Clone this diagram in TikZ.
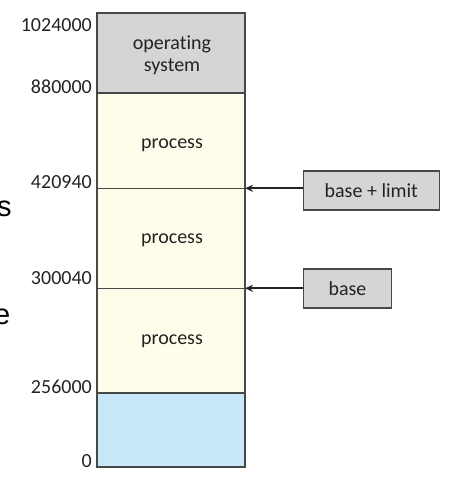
\documentclass[tikz,border=0pt]{standalone}
\usepackage{fontspec}
\setmainfont[Ligatures=NoCommon]{Carlito}
\newfontfamily\arialfont{Liberation Sans}
\usetikzlibrary{arrows.meta}
\definecolor{osgray}{RGB}{212,213,215}
\definecolor{procyellow}{RGB}{254,252,234}
\definecolor{freeblue}{RGB}{200,232,249}
\definecolor{edgegray}{RGB}{72,72,72}
\definecolor{txtgray}{RGB}{35,35,35}
\tikzset{
  memsec/.style={draw=edgegray, line width=1.3pt},
  addr/.style={anchor=base east, inner sep=0pt, font=\fontsize{20}{23}\selectfont, text=txtgray},
  seclabel/.style={inner sep=0pt, font=\fontsize{20}{22}\selectfont, text=txtgray, align=center},
  regbox/.style={draw=edgegray, line width=1.3pt, fill=osgray, inner sep=0pt, minimum height=39pt, font=\fontsize{20}{23}\selectfont, text=txtgray},
  regarrow/.style={-{Stealth[length=8pt,width=7pt]}, line width=2pt, draw=txtgray},
  stray/.style={anchor=base west, inner sep=0pt, font=\arialfont\fontsize{29}{32}\selectfont}
}
\begin{document}
\begin{tikzpicture}[x=1pt,y=-1pt]
\useasboundingbox (0,0) rectangle (458,490);
% memory sections
\fill[osgray] (97,13) rectangle (245,93);
\fill[procyellow] (97,93) rectangle (245,393);
\fill[freeblue] (97,393) rectangle (245,467);
\draw[memsec] (97,13) rectangle (245,467);
\draw[memsec] (97,93) -- (245,93);
\draw[memsec] (97,188.3) -- (245,188.3);
\draw[memsec] (97,288.3) -- (245,288.3);
\draw[memsec] (97,393) -- (245,393);
\coordinate (lim) at (245,188.3);
\coordinate (bas) at (245,288.3);
% section labels
\node[seclabel] (os) at (172,55) {operating\\system};
\node[seclabel] (p1) at (172,145) {process};
\node[seclabel] (p2) at (172,240) {process};
\node[seclabel] (p3) at (172,341) {process};
% addresses
\node[addr] (a1) at (92,31) {1024000};
\node[addr] (a2) at (92,93) {880000};
\node[addr] (a3) at (92,188) {420940};
\node[addr] (a4) at (92,284) {300040};
\node[addr] (a5) at (92,393) {256000};
\node[addr] (a6) at (92,467) {0};
% registers
\node[regbox, minimum width=136pt] (bl) at (371.3,190.5) {base + limit};
\node[regbox, minimum width=88pt] (b) at (347.5,288.5) {base};
\draw[regarrow] (bl.west |- lim) -- (lim);
\draw[regarrow] (b.west |- bas) -- (bas);
% cut-off text at the left edge
\node[stray] (s1) at (-3,216) {s};
\node[stray] (s2) at (-6,324) {e};
\end{tikzpicture}
\end{document}
